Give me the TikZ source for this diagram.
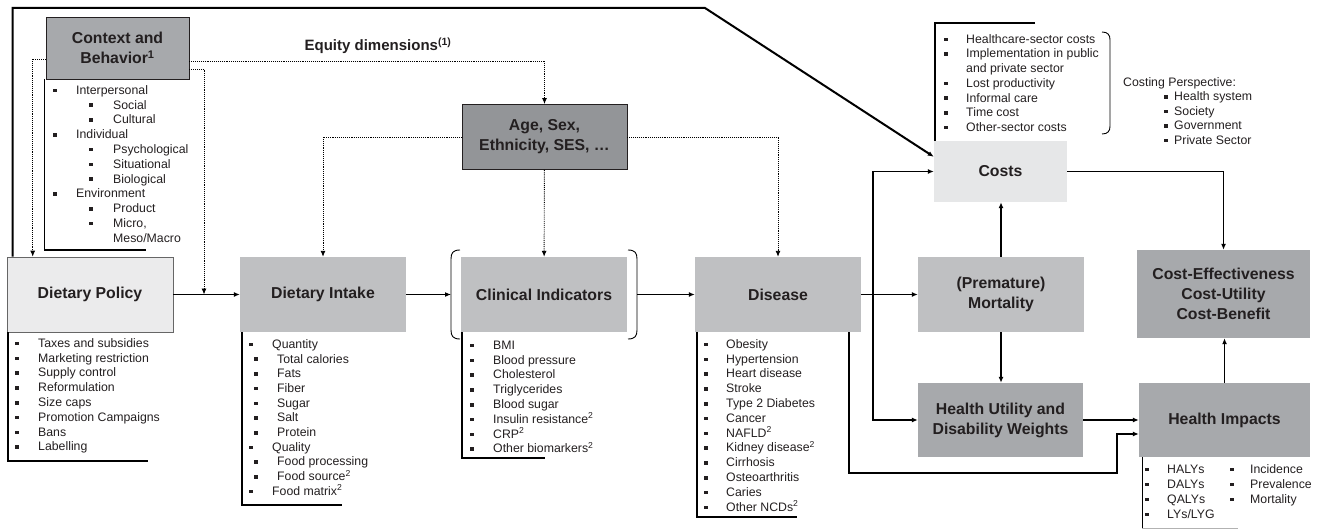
\documentclass[tikz,border=0pt]{standalone}
\usepackage{fontspec}
\setmainfont{Liberation Sans}
\usetikzlibrary{arrows.meta}

\definecolor{boxlight}{HTML}{EBEBEC}
\definecolor{boxpale}{HTML}{E6E7E8}
\definecolor{boxmid}{HTML}{BFC0C2}
\definecolor{boxdark}{HTML}{A7A9AC}
\definecolor{boxdeep}{HTML}{939598}
\definecolor{inkgray}{HTML}{231F20}

\tikzset{
  box/.style={minimum width=166pt, minimum height=75pt, align=center, inner sep=0pt,
    font=\fontsize{15.8}{20}\selectfont\bfseries, text=inkgray},
  item/.style={anchor=base west, inner sep=0pt, font=\fontsize{12.3}{14.8}\selectfont, text=inkgray},
  flow/.style={->, line width=1.7pt},
  hint/.style={->, densely dotted, line width=0.9pt},
  rule/.style={line width=1.6pt},
}
\newcommand\sqbul[2]{\fill[inkgray] (#1-1.8,#2-1.3) rectangle +(3.6,3.6);}

\begin{document}
\begin{tikzpicture}[x=1pt, y=-1pt, >={Latex[length=6pt,width=5pt]}]
  \useasboundingbox (0,0) rectangle (1321,529);

  % boxes
  \node[box, fill=boxlight, draw=black!60, line width=0.6pt] (policy) at (90,294.5) {Dietary Policy};
  \node[box, fill=boxdark, draw=inkgray, line width=0.8pt, minimum width=143pt, minimum height=62pt] (context) at (117.5,48) {Context and\\Behavior\textsuperscript{1}};
  \node[box, fill=boxdeep, draw=inkgray, line width=0.8pt, minimum width=165pt, minimum height=65pt] (age) at (544.5,137) {Age, Sex,\\Ethnicity, SES, \dots};
  \node[box, fill=boxmid] (intake) at (323,294.5) {Dietary Intake};
  \node[box, fill=boxmid] (clinical) at (544,294.5) {Clinical Indicators};
  \node[box, fill=boxmid] (disease) at (778,294.5) {Disease};
  \node[box, fill=boxpale, minimum width=133pt, minimum height=61pt] (costs) at (1000.5,171.5) {Costs};
  \node[box, fill=boxmid] (mortality) at (1001,294.5) {(Premature)\\Mortality};
  \node[box, fill=boxdark, minimum width=165pt, minimum height=74pt] (utility) at (1000.5,420) {Health Utility and\\Disability Weights};
  \node[box, fill=boxdark, minimum width=171pt, minimum height=74pt] (impacts) at (1224.5,420) {Health Impacts};
  \node[box, fill=boxdark, minimum width=173pt, minimum height=88pt] (ce) at (1223.5,294) {Cost-Effectiveness\\Cost-Utility\\Cost-Benefit};
  \node[font=\fontsize{15}{17}\selectfont\bfseries, text=inkgray] (equity) at (378,46) {Equity dimensions\textsuperscript{(1)}};

  \coordinate (bend) at (705,8);
  \coordinate (dip) at (204,294.5);
  \coordinate (lbrace) at (451,294.5);
  \coordinate (rbrace) at (637,294.5);
  \coordinate (split) at (873,294.5);
  \coordinate (detour) at (1117,473);

  % clinical brackets
  \draw[line width=0.9pt] (460,250) .. controls (453,250) and (451,253) .. (451,259) -- (451,330) .. controls (451,336) and (453,339) .. (460,339);
  \draw[line width=0.9pt] (628,250) .. controls (635,250) and (637,253) .. (637,259) -- (637,330) .. controls (637,336) and (635,339) .. (628,339);

  % main flow
  \draw[flow, line width=2pt] ([xshift=6pt]policy.north west) |- (bend) -- ([yshift=-16pt]costs.north west);
  \draw[flow] (policy) -- (intake);
  \draw[flow] (intake) -- (lbrace);
  \draw[flow] (rbrace) -- (disease);
  \draw[flow] (disease) -- (mortality);
  \draw[flow] (split) |- (costs);
  \draw[flow] (split) |- (utility);
  \draw[flow] ([xshift=-12pt]disease.south east) |- (detour) |- ([yshift=-14pt]impacts.west);
  \draw[flow] (mortality.north) -- (mortality.north |- costs.south);
  \draw[flow] (mortality.south) -- (mortality.south |- utility.north);
  \draw[flow] (utility) -- (impacts);
  \draw[flow] (impacts.north) -- (impacts.north |- ce.south);
  \draw[flow] (costs) -| (ce);

  % equity dimensions
  \draw[hint] ([yshift=-11pt]context.west) -| ([xshift=26pt]policy.north west);
  \draw[hint] ([yshift=-13pt]context.east) -| (age);
  \draw[hint] ([yshift=-21pt]context.east) -| (dip);
  \draw[hint] (age) -| (intake);
  \draw[hint] (age) -- (clinical);
  \draw[hint] (age) -| (disease);

  % context list
  \draw[rule] (44.5,79) -- (44.5,250) -- (146,250);
  \foreach \lvl/\b/\t [count=\i] in {0/1/Interpersonal, 1/1/Social, 1/1/Cultural, 0/1/Individual, 1/1/Psychological, 1/1/Situational, 1/1/Biological, 0/1/Environment, 1/1/Product, 1/1/{Micro,}, 1/0/{Meso/Macro}} {
    \node[item] (ctx\i) at (76+37*\lvl, 79.5+\i*14.8) {\t};
    \ifnum\b=1 \sqbul{55+36*\lvl}{75.2+\i*14.8} \fi
  }

  % policy list
  \draw[rule] (8,332) -- (8,461) -- (148,461);
  \foreach \t [count=\i] in {Taxes and subsidies, Marketing restriction, Supply control, Reformulation, Size caps, Promotion Campaigns, Bans, Labelling} {
    \node[item] (pol\i) at (38, 332.5+\i*14.8) {\t};
    \sqbul{17}{328.2+\i*14.8}
  }

  % intake list
  \draw[rule] (242,332) -- (242,505) -- (342,505);
  \foreach \lvl/\t [count=\i] in {0/Quantity, 1/Total calories, 1/Fats, 1/Fiber, 1/Sugar, 1/Salt, 1/Protein, 0/Quality, 1/Food processing, 1/Food source\textsuperscript{2}, 0/Food matrix\textsuperscript{2}} {
    \node[item] (int\i) at (272+5*\lvl, 333.6+\i*14.7) {\t};
    \sqbul{251+5*\lvl}{329.3+\i*14.7}
  }

  % clinical list
  \draw[rule] (462,332) -- (462,458) -- (545,458);
  \foreach \t [count=\i] in {BMI, Blood pressure, Cholesterol, Triglycerides, Blood sugar, Insulin resistance\textsuperscript{2}, CRP\textsuperscript{2}, Other biomarkers\textsuperscript{2}} {
    \node[item] (cli\i) at (493, 334.5+\i*14.8) {\t};
    \sqbul{472}{330.2+\i*14.8}
  }

  % disease list
  \draw[rule] (697,332) -- (697,517) -- (797,517);
  \foreach \t [count=\i] in {Obesity, Hypertension, Heart disease, Stroke, Type 2 Diabetes, Cancer, NAFLD\textsuperscript{2}, Kidney disease\textsuperscript{2}, Cirrhosis, Osteoarthritis, Caries, Other NCDs\textsuperscript{2}} {
    \node[item] (dis\i) at (726, 333.5+\i*14.8) {\t};
    \sqbul{706}{329.2+\i*14.8}
  }

  % costs list
  \draw[rule] (1035,23) -- (935,23) -- (935,141);
  \foreach \b/\t [count=\i] in {1/Healthcare-sector costs, 1/Implementation in public, 0/and private sector, 1/Lost productivity, 1/Informal care, 1/Time cost, 1/Other-sector costs} {
    \node[item] (cst\i) at (966, 28.6+\i*14.7) {\t};
    \ifnum\b=1 \sqbul{946}{24.3+\i*14.7} \fi
  }
  \draw[line width=0.9pt] (1102,32) .. controls (1108,32) and (1110,35) .. (1110,40) -- (1110,126) .. controls (1110,131) and (1108,134) .. (1102,134);

  % costing perspective
  \node[item] (persp) at (1123,86.3) {Costing Perspective:};
  \foreach \t [count=\i] in {Health system, Society, Government, Private Sector} {
    \node[item] (per\i) at (1174, 86.1+\i*14.6) {\t};
    \sqbul{1166}{81.8+\i*14.6}
  }

  % health impacts list
  \draw[line width=0.8pt] (1142,457) -- (1142,528);
  \draw[line width=0.8pt, black!30] (1142,528) -- (1238,528);
  \foreach \t [count=\i] in {HALYs, DALYs, QALYs, LYs/LYG} {
    \node[item] (imp\i) at (1167, 458.3+\i*15) {\t};
    \sqbul{1147}{454+\i*15}
  }
  \foreach \t [count=\i] in {Incidence, Prevalence, Mortality} {
    \node[item] (inc\i) at (1250, 458.3+\i*15) {\t};
    \sqbul{1232}{454+\i*15}
  }
\end{tikzpicture}
\end{document}
